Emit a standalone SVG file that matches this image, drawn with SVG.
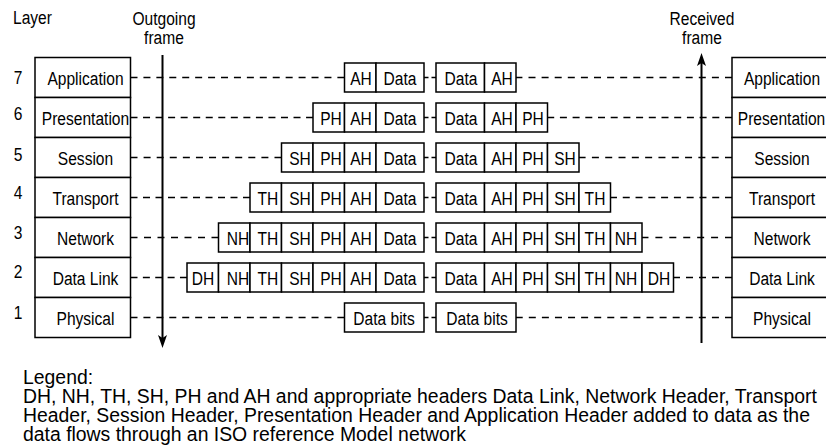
<svg xmlns="http://www.w3.org/2000/svg" width="826" height="448" viewBox="0 0 826 448">
<style>
.bg{fill:#fff}
.box{fill:#fff;stroke:#000;stroke-width:1.5}
.t{font-family:"Liberation Sans",Arial,sans-serif;font-size:19px;text-anchor:middle;fill:#000;transform-box:fill-box;transform-origin:center;transform:scaleX(0.82)}
.tl{font-family:"Liberation Sans",Arial,sans-serif;font-size:19px;fill:#000;transform-box:fill-box;transform-origin:left;transform:scaleX(0.82)}
.leg{font-family:"Liberation Sans",Arial,sans-serif;font-size:19.4px;fill:#000}
.d{stroke:#000;stroke-width:1.5;fill:none}
.arr{stroke:#000;stroke-width:2;fill:none}
.head{fill:#000;stroke:none}
</style>
<rect class="bg" x="0" y="0" width="826" height="448"/>

<g id="connectors">
  <line class="d" x1="130.5" y1="77.5" x2="344.5" y2="77.5" stroke-dasharray="7 5.93"/>
  <line class="d" x1="130.5" y1="117.5" x2="313" y2="117.5" stroke-dasharray="7 5.54"/>
  <line class="d" x1="130.5" y1="157.5" x2="281.5" y2="157.5" stroke-dasharray="7 6.09"/>
  <line class="d" x1="130.5" y1="197.5" x2="250" y2="197.5" stroke-dasharray="7 5.5"/>
  <line class="d" x1="130.5" y1="237.5" x2="218.5" y2="237.5" stroke-dasharray="7 6.5"/>
  <line class="d" x1="130.5" y1="277.5" x2="187" y2="277.5" stroke-dasharray="7 5.37"/>
  <line class="d" x1="130.5" y1="317.5" x2="344.5" y2="317.5" stroke-dasharray="7 5.93"/>
  <line class="d" x1="732" y1="77.5" x2="516" y2="77.5" stroke-dasharray="7 6.1"/>
  <line class="d" x1="732" y1="117.5" x2="547.5" y2="117.5" stroke-dasharray="7 5.7"/>
  <line class="d" x1="732" y1="157.5" x2="579" y2="157.5" stroke-dasharray="7 6.31"/>
  <line class="d" x1="732" y1="197.5" x2="610.5" y2="197.5" stroke-dasharray="7 5.78"/>
  <line class="d" x1="732" y1="237.5" x2="642" y2="237.5" stroke-dasharray="7 6.92"/>
  <line class="d" x1="732" y1="277.5" x2="673.5" y2="277.5" stroke-dasharray="7 6"/>
  <line class="d" x1="732" y1="317.5" x2="516" y2="317.5" stroke-dasharray="7 6.08"/>
  <path class="d" d="M424 77.5h4.5M431.5 77.5h4.5M424 117.5h4.5M431.5 117.5h4.5M424 157.5h4.5M431.5 157.5h4.5M424 197.5h4.5M431.5 197.5h4.5M424 237.5h4.5M431.5 237.5h4.5M424 277.5h4.5M431.5 277.5h4.5M424 317.5h4.5M431.5 317.5h4.5"/>
  <line class="arr" x1="162.5" y1="55" x2="162.5" y2="340"/>
  <polygon class="head" points="162.5,348 158,335 162.5,338 167,335"/>
  <line class="arr" x1="701.5" y1="61" x2="701.5" y2="343"/>
  <polygon class="head" points="701.5,53 697,66 701.5,63 706,66"/>
</g>

<g id="titles">
  <text class="tl" x="13" y="24">Layer</text>
  <text class="t" x="164" y="25">Outgoing</text>
  <text class="t" x="164" y="44">frame</text>
  <text class="t" x="702" y="25">Received</text>
  <text class="t" x="702" y="44">frame</text>
</g>

<g id="layer-numbers">
  <text class="t" x="18" y="84">7</text>
  <text class="t" x="18" y="120">6</text>
  <text class="t" x="18" y="161">5</text>
  <text class="t" x="18" y="199">4</text>
  <text class="t" x="18" y="239">3</text>
  <text class="t" x="18" y="278">2</text>
  <text class="t" x="18" y="319">1</text>
</g>

<g id="left-stack">
  <g id="left-application"><rect class="box" x="35" y="57.5" width="95.5" height="40"/><text class="t" x="85.5" y="85">Application</text></g>
  <g id="left-presentation"><rect class="box" x="35" y="97.5" width="95.5" height="40"/><text class="t" x="85.5" y="125">Presentation</text></g>
  <g id="left-session"><rect class="box" x="35" y="137.5" width="95.5" height="40"/><text class="t" x="85.5" y="165">Session</text></g>
  <g id="left-transport"><rect class="box" x="35" y="177.5" width="95.5" height="40"/><text class="t" x="85.5" y="205">Transport</text></g>
  <g id="left-network"><rect class="box" x="35" y="217.5" width="95.5" height="40"/><text class="t" x="85.5" y="245">Network</text></g>
  <g id="left-datalink"><rect class="box" x="35" y="257.5" width="95.5" height="40"/><text class="t" x="85.5" y="285">Data Link</text></g>
  <g id="left-physical"><rect class="box" x="35" y="297.5" width="95.5" height="40"/><text class="t" x="85.5" y="325">Physical</text></g>
</g>

<g id="right-stack">
  <g id="right-application"><rect class="box" x="732" y="57.5" width="96" height="40"/><text class="t" x="782" y="85">Application</text></g>
  <g id="right-presentation"><rect class="box" x="732" y="97.5" width="96" height="40"/><text class="t" x="781.5" y="125">Presentation</text></g>
  <g id="right-session"><rect class="box" x="732" y="137.5" width="96" height="40"/><text class="t" x="782" y="165">Session</text></g>
  <g id="right-transport"><rect class="box" x="732" y="177.5" width="96" height="40"/><text class="t" x="782" y="205">Transport</text></g>
  <g id="right-network"><rect class="box" x="732" y="217.5" width="96" height="40"/><text class="t" x="782" y="245">Network</text></g>
  <g id="right-datalink"><rect class="box" x="732" y="257.5" width="96" height="40"/><text class="t" x="782" y="285">Data Link</text></g>
  <g id="right-physical"><rect class="box" x="732" y="297.5" width="96" height="40"/><text class="t" x="782" y="325">Physical</text></g>
</g>

<g id="out-frame-7">
  <rect class="box" x="344.5" y="63" width="31.5" height="29"/><text class="t" x="361" y="85">AH</text>
  <rect class="box" x="376" y="63" width="48" height="29"/><text class="t" x="400" y="85">Data</text>
</g>
<g id="out-frame-6">
  <rect class="box" x="313" y="103" width="31.5" height="29"/><text class="t" x="331" y="125">PH</text>
  <rect class="box" x="344.5" y="103" width="31.5" height="29"/><text class="t" x="361" y="125">AH</text>
  <rect class="box" x="376" y="103" width="48" height="29"/><text class="t" x="400" y="125">Data</text>
</g>
<g id="out-frame-5">
  <rect class="box" x="281.5" y="143" width="31.5" height="29"/><text class="t" x="300" y="165">SH</text>
  <rect class="box" x="313" y="143" width="31.5" height="29"/><text class="t" x="331" y="165">PH</text>
  <rect class="box" x="344.5" y="143" width="31.5" height="29"/><text class="t" x="361" y="165">AH</text>
  <rect class="box" x="376" y="143" width="48" height="29"/><text class="t" x="400" y="165">Data</text>
</g>
<g id="out-frame-4">
  <rect class="box" x="250" y="183" width="31.5" height="29"/><text class="t" x="268" y="205">TH</text>
  <rect class="box" x="281.5" y="183" width="31.5" height="29"/><text class="t" x="300" y="205">SH</text>
  <rect class="box" x="313" y="183" width="31.5" height="29"/><text class="t" x="331" y="205">PH</text>
  <rect class="box" x="344.5" y="183" width="31.5" height="29"/><text class="t" x="361" y="205">AH</text>
  <rect class="box" x="376" y="183" width="48" height="29"/><text class="t" x="400" y="205">Data</text>
</g>
<g id="out-frame-3">
  <rect class="box" x="218.5" y="223" width="31.5" height="29"/><text class="t" x="238" y="245">NH</text>
  <rect class="box" x="250" y="223" width="31.5" height="29"/><text class="t" x="268" y="245">TH</text>
  <rect class="box" x="281.5" y="223" width="31.5" height="29"/><text class="t" x="300" y="245">SH</text>
  <rect class="box" x="313" y="223" width="31.5" height="29"/><text class="t" x="331" y="245">PH</text>
  <rect class="box" x="344.5" y="223" width="31.5" height="29"/><text class="t" x="361" y="245">AH</text>
  <rect class="box" x="376" y="223" width="48" height="29"/><text class="t" x="400" y="245">Data</text>
</g>
<g id="out-frame-2">
  <rect class="box" x="187" y="263" width="31.5" height="29"/><text class="t" x="203" y="285">DH</text>
  <rect class="box" x="218.5" y="263" width="31.5" height="29"/><text class="t" x="238" y="285">NH</text>
  <rect class="box" x="250" y="263" width="31.5" height="29"/><text class="t" x="268" y="285">TH</text>
  <rect class="box" x="281.5" y="263" width="31.5" height="29"/><text class="t" x="300" y="285">SH</text>
  <rect class="box" x="313" y="263" width="31.5" height="29"/><text class="t" x="331" y="285">PH</text>
  <rect class="box" x="344.5" y="263" width="31.5" height="29"/><text class="t" x="361" y="285">AH</text>
  <rect class="box" x="376" y="263" width="48" height="29"/><text class="t" x="400" y="285">Data</text>
</g>
<g id="out-frame-1">
  <rect class="box" x="344.5" y="303" width="79.5" height="29"/><text class="t" x="384" y="325">Data bits</text>
</g>

<g id="in-frame-7">
  <rect class="box" x="436" y="63" width="48.5" height="29"/><text class="t" x="461" y="85">Data</text>
  <rect class="box" x="484.5" y="63" width="31.5" height="29"/><text class="t" x="502" y="85">AH</text>
</g>
<g id="in-frame-6">
  <rect class="box" x="436" y="103" width="48.5" height="29"/><text class="t" x="461" y="125">Data</text>
  <rect class="box" x="484.5" y="103" width="31.5" height="29"/><text class="t" x="502" y="125">AH</text>
  <rect class="box" x="516" y="103" width="31.5" height="29"/><text class="t" x="533" y="125">PH</text>
</g>
<g id="in-frame-5">
  <rect class="box" x="436" y="143" width="48.5" height="29"/><text class="t" x="461" y="165">Data</text>
  <rect class="box" x="484.5" y="143" width="31.5" height="29"/><text class="t" x="502" y="165">AH</text>
  <rect class="box" x="516" y="143" width="31.5" height="29"/><text class="t" x="533" y="165">PH</text>
  <rect class="box" x="547.5" y="143" width="31.5" height="29"/><text class="t" x="565" y="165">SH</text>
</g>
<g id="in-frame-4">
  <rect class="box" x="436" y="183" width="48.5" height="29"/><text class="t" x="461" y="205">Data</text>
  <rect class="box" x="484.5" y="183" width="31.5" height="29"/><text class="t" x="502" y="205">AH</text>
  <rect class="box" x="516" y="183" width="31.5" height="29"/><text class="t" x="533" y="205">PH</text>
  <rect class="box" x="547.5" y="183" width="31.5" height="29"/><text class="t" x="565" y="205">SH</text>
  <rect class="box" x="579" y="183" width="31.5" height="29"/><text class="t" x="595" y="205">TH</text>
</g>
<g id="in-frame-3">
  <rect class="box" x="436" y="223" width="48.5" height="29"/><text class="t" x="461" y="245">Data</text>
  <rect class="box" x="484.5" y="223" width="31.5" height="29"/><text class="t" x="502" y="245">AH</text>
  <rect class="box" x="516" y="223" width="31.5" height="29"/><text class="t" x="533" y="245">PH</text>
  <rect class="box" x="547.5" y="223" width="31.5" height="29"/><text class="t" x="565" y="245">SH</text>
  <rect class="box" x="579" y="223" width="31.5" height="29"/><text class="t" x="595" y="245">TH</text>
  <rect class="box" x="610.5" y="223" width="31.5" height="29"/><text class="t" x="626" y="245">NH</text>
</g>
<g id="in-frame-2">
  <rect class="box" x="436" y="263" width="48.5" height="29"/><text class="t" x="461" y="285">Data</text>
  <rect class="box" x="484.5" y="263" width="31.5" height="29"/><text class="t" x="502" y="285">AH</text>
  <rect class="box" x="516" y="263" width="31.5" height="29"/><text class="t" x="533" y="285">PH</text>
  <rect class="box" x="547.5" y="263" width="31.5" height="29"/><text class="t" x="565" y="285">SH</text>
  <rect class="box" x="579" y="263" width="31.5" height="29"/><text class="t" x="595" y="285">TH</text>
  <rect class="box" x="610.5" y="263" width="31.5" height="29"/><text class="t" x="626" y="285">NH</text>
  <rect class="box" x="642" y="263" width="31.5" height="29"/><text class="t" x="659" y="285">DH</text>
</g>
<g id="in-frame-1">
  <rect class="box" x="436" y="303" width="80" height="29"/><text class="t" x="477" y="325">Data bits</text>
</g>

<g id="legend">
  <text class="leg" x="23" y="384">Legend:</text>
  <text class="leg" x="23" y="403">DH, NH, TH, SH, PH and AH and appropriate headers Data Link, Network Header, Transport</text>
  <text class="leg" x="23" y="422">Header, Session Header, Presentation Header and Application Header added to data as the</text>
  <text class="leg" x="23" y="441">data flows through an ISO reference Model network</text>
</g>
</svg>
